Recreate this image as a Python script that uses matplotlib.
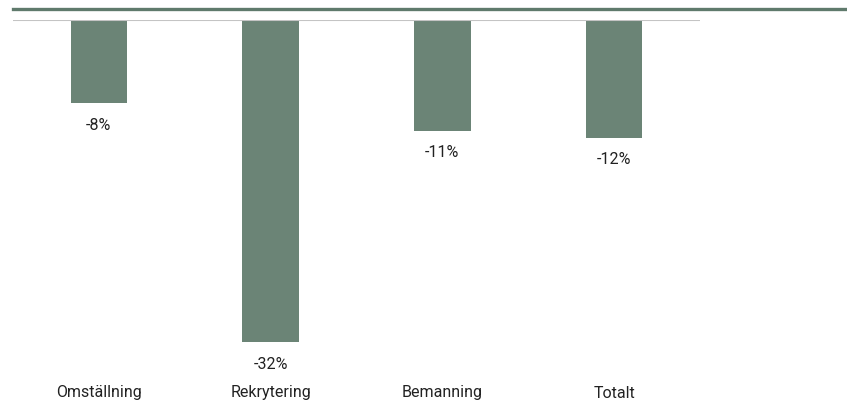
import matplotlib.pyplot as plt
import matplotlib.transforms as mtransforms
from matplotlib.lines import Line2D

kategorier = ["Omställning", "Rekrytering", "Bemanning", "Totalt"]
varden = [-8.3, -32.0, -11.0, -11.7]
etiketter = ["-8%", "-32%", "-11%", "-12%"]

plt.rcParams['font.family'] = ['Roboto', 'DejaVu Sans']

W, H = 847, 404
fig = plt.figure(figsize=(W / 100, H / 100), dpi=100)
ax = fig.add_axes([13 / W, 1 - 363 / H, 687 / W, 343 / H])

x = range(len(kategorier))
ax.bar(x, varden, width=0.33, color="#6b8476", zorder=2)
ax.set_xlim(-0.5, len(kategorier) - 0.5)
ax.set_ylim(-34.1, 0)
ax.axhline(0, color="#c4c4c4", linewidth=1.5, zorder=3)

# procentetiketter under staplarna
for i, (v, txt) in enumerate(zip(varden, etiketter)):
    ax.annotate(txt, (i, v), xytext=(0, -16), textcoords="offset points",
                ha="center", va="center", fontsize=11.5, color="#222222")

# kategorinamn längst ner
trans = mtransforms.blended_transform_factory(ax.transData, fig.transFigure)
for i, k in enumerate(kategorier):
    ax.text(i, 1 - 393 / H, k, transform=trans, ha="center", va="center",
            fontsize=11.5, color="#222222")

for s in ax.spines.values():
    s.set_visible(False)
ax.set_xticks([])
ax.set_yticks([])

fig.add_artist(Line2D([13 / W, 1], [1 - 8.5 / H, 1 - 8.5 / H], color="#5f7a6c",
                      linewidth=2.4, transform=fig.transFigure))

fig.savefig("out.png", dpi=100)
